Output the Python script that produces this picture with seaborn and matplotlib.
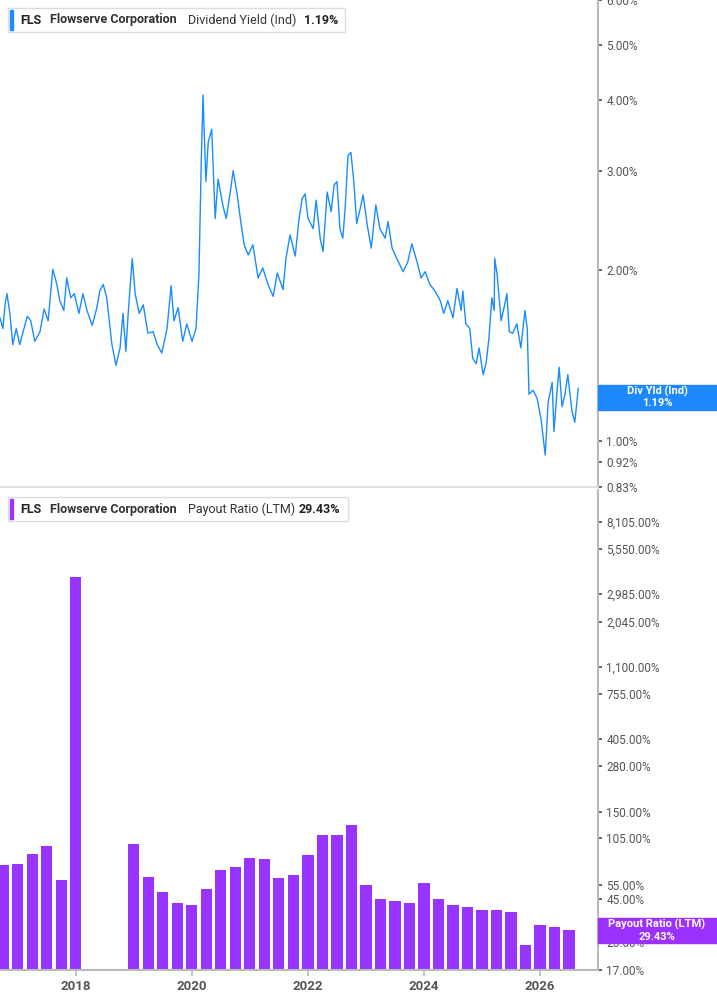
import matplotlib
matplotlib.use("Agg")
import matplotlib.pyplot as plt
import matplotlib.ticker as mticker
import seaborn as sns
import pandas as pd

sns.set_theme(style="white")
plt.rcParams['font.family'] = ['Roboto', 'DejaVu Sans']

# Dividend yield (%) vs decimal year
yield_years = [2016.69, 2016.74, 2016.78, 2016.81, 2016.86, 2016.91, 2016.97, 2017.03, 2017.09, 2017.16,
               2017.22, 2017.29, 2017.38, 2017.45, 2017.52, 2017.57, 2017.60, 2017.67, 2017.72, 2017.79,
               2017.84, 2017.91, 2017.97, 2018.05, 2018.12, 2018.19, 2018.28, 2018.36, 2018.41, 2018.47,
               2018.53, 2018.62, 2018.69, 2018.76, 2018.81, 2018.86, 2018.90, 2018.97, 2019.02, 2019.09,
               2019.16, 2019.24, 2019.33, 2019.40, 2019.48, 2019.57, 2019.64, 2019.69, 2019.76, 2019.84,
               2019.91, 2020.00, 2020.07, 2020.12, 2020.16, 2020.19, 2020.24, 2020.28, 2020.34, 2020.40,
               2020.45, 2020.53, 2020.59, 2020.66, 2020.71, 2020.78, 2020.84, 2020.90, 2020.97, 2021.05,
               2021.14, 2021.22, 2021.31, 2021.40, 2021.47, 2021.57, 2021.62, 2021.69, 2021.78, 2021.84,
               2021.90, 2021.95, 2022.00, 2022.09, 2022.14, 2022.21, 2022.26, 2022.33, 2022.40, 2022.45,
               2022.50, 2022.55, 2022.60, 2022.64, 2022.69, 2022.74, 2022.79, 2022.84, 2022.90, 2022.95,
               2023.02, 2023.09, 2023.17, 2023.24, 2023.33, 2023.38, 2023.45, 2023.53, 2023.64, 2023.72,
               2023.79, 2023.88, 2023.95, 2024.02, 2024.10, 2024.19, 2024.28, 2024.34, 2024.41, 2024.50,
               2024.57, 2024.64, 2024.67, 2024.72, 2024.79, 2024.84, 2024.90, 2024.95, 2025.02, 2025.07,
               2025.12, 2025.17, 2025.21, 2025.22, 2025.26, 2025.33, 2025.38, 2025.43, 2025.47, 2025.53,
               2025.60, 2025.67, 2025.74, 2025.78, 2025.81, 2025.88, 2025.95, 2026.02, 2026.09, 2026.14,
               2026.21, 2026.24, 2026.29, 2026.33, 2026.38, 2026.43, 2026.48, 2026.55, 2026.60, 2026.66]
yield_values = [1.65, 1.58, 1.75, 1.82, 1.68, 1.48, 1.58, 1.48, 1.56, 1.66,
                1.63, 1.50, 1.56, 1.71, 1.63, 1.86, 2.01, 1.89, 1.77, 1.70,
                1.94, 1.79, 1.82, 1.68, 1.82, 1.70, 1.60, 1.72, 1.84, 1.89,
                1.79, 1.48, 1.36, 1.46, 1.68, 1.44, 1.68, 2.10, 1.82, 1.68,
                1.74, 1.55, 1.56, 1.48, 1.43, 1.58, 1.88, 1.63, 1.72, 1.50,
                1.61, 1.50, 1.58, 1.97, 3.11, 4.08, 2.87, 3.37, 3.55, 2.47,
                2.90, 2.61, 2.47, 2.75, 3.00, 2.72, 2.44, 2.22, 2.13, 2.22,
                1.94, 2.02, 1.89, 1.80, 1.98, 1.85, 2.10, 2.31, 2.12, 2.44,
                2.68, 2.73, 2.47, 2.37, 2.66, 2.28, 2.16, 2.75, 2.54, 2.83,
                2.87, 2.37, 2.28, 2.57, 3.19, 3.23, 2.87, 2.42, 2.57, 2.72,
                2.41, 2.19, 2.61, 2.37, 2.28, 2.44, 2.19, 2.10, 1.99, 2.07,
                2.23, 2.07, 1.94, 1.99, 1.89, 1.84, 1.77, 1.68, 1.77, 1.65,
                1.86, 1.70, 1.84, 1.61, 1.58, 1.40, 1.37, 1.46, 1.31, 1.37,
                1.52, 1.79, 1.70, 2.10, 1.97, 1.63, 1.72, 1.82, 1.56, 1.55,
                1.61, 1.46, 1.70, 1.58, 1.21, 1.23, 1.19, 1.09, 0.945, 1.17,
                1.27, 1.04, 1.21, 1.35, 1.15, 1.21, 1.31, 1.13, 1.08, 1.24]

# Payout ratio (LTM, %) per quarter
payout_quarters = [2016.75, 2017.00, 2017.25, 2017.50, 2017.75, 2018.00,
                   2019.00, 2019.25, 2019.50, 2019.75, 2020.00, 2020.25, 2020.50, 2020.75,
                   2021.00, 2021.25, 2021.50, 2021.75, 2022.00, 2022.25, 2022.50, 2022.75,
                   2023.00, 2023.25, 2023.50, 2023.75, 2024.00, 2024.25, 2024.50, 2024.75,
                   2025.00, 2025.25, 2025.50, 2025.75, 2026.00, 2026.25, 2026.50]
payout_values = [72.5, 73.5, 84.0, 94.0, 58.5, 3780.0,
                 95.5, 61.0, 50.0, 43.0, 41.5, 51.9, 67.2, 69.8,
                 79.4, 78.6, 60.4, 63.0, 83.0, 108.3, 109.3, 124.5,
                 54.9, 45.1, 43.9, 42.5, 55.9, 45.3, 41.7, 40.3,
                 38.9, 38.9, 37.5, 24.1, 31.6, 30.6, 29.43]

yield_ticks = [0.83, 0.92, 1.00, 2.00, 3.00, 4.00, 5.00, 6.00]
payout_ticks = [17, 25, 45, 55, 105, 150, 280, 405, 755, 1100, 2045, 2985, 5550, 8105]
year_ticks = [2018, 2020, 2022, 2024, 2026]

BLUE = "#1a8cff"
PURPLE = "#9933ff"
GRAY = "#555555"
W, H = 717, 1005

fig = plt.figure(figsize=(W / 100, H / 100), dpi=100)
ax1 = fig.add_axes([0, 1 - 487 / H, 598 / W, 487 / H])
ax2 = fig.add_axes([0, 1 - 970 / H, 598 / W, 480 / H])

xlim = (2016.69, 2027.0)

def style(ax):
    for s in ["left", "top"]:
        ax.spines[s].set_visible(False)
    ax.spines["right"].set_color("#bbbbbb")
    ax.spines["right"].set_linewidth(1.5)
    ax.spines["bottom"].set_color("#bbbbbb")
    ax.yaxis.tick_right()
    ax.tick_params(axis="y", which="both", length=3, color=GRAY, labelsize=8.5,
                   labelcolor=GRAY, pad=3, right=True)
    ax.yaxis.set_minor_locator(mticker.NullLocator())

# Top: dividend yield
ax1.set_yscale("log")
df_y = pd.DataFrame({"year": yield_years, "yield": yield_values})
sns.lineplot(data=df_y, x="year", y="yield", ax=ax1, color=BLUE, linewidth=1.0)
ax1.set_xlim(*xlim)
ax1.set_ylim(0.83, 6.0)
style(ax1)
ax1.spines["bottom"].set_color("#dddddd")
ax1.set_yticks(yield_ticks)
ax1.set_yticklabels([f"{t:.2f}%" for t in yield_ticks])
ax1.set_xticks([])
ax1.set_xlabel("")
ax1.set_ylabel("")

# Bottom: payout ratio bars
ax2.set_yscale("log")
for q, v in zip(payout_quarters, payout_values):
    pass
df_p = pd.DataFrame({"quarter": payout_quarters, "payout": payout_values})
sns.barplot(data=df_p, x="quarter", y="payout", ax=ax2, native_scale=True,
            color=PURPLE, saturation=1, width=0.76, edgecolor=PURPLE, linewidth=0)
ax2.set_xlim(*xlim)
ax2.set_ylim(17, 12500)
style(ax2)
ax2.spines["bottom"].set_linewidth(1.5)
ax2.set_yticks(payout_ticks)
ax2.set_yticklabels([f"{t:,.2f}%" for t in payout_ticks])
ax2.set_xticks(year_ticks)
ax2.set_xticklabels([str(y) for y in year_ticks], fontsize=9.5, color=GRAY, fontweight="bold")
ax2.tick_params(axis="x", length=4, color="#bbbbbb", bottom=True, pad=3)
ax2.set_xlabel("")
ax2.set_ylabel("")

# Right-side value boxes
def value_box(y0, y1, color, l1, l2):
    fig.patches.append(plt.Rectangle((598 / W, 1 - y1 / H), (W - 598) / W, (y1 - y0) / H,
                                     transform=fig.transFigure, color=color, zorder=5))
    yc = (y0 + y1) / 2
    fig.text(657 / W, 1 - (yc - 6) / H, l1, color="white", fontsize=8, fontweight="bold",
             ha="center", va="center", zorder=6)
    fig.text(657 / W, 1 - (yc + 6) / H, l2, color="white", fontsize=8, fontweight="bold",
             ha="center", va="center", zorder=6)

value_box(385, 410, "#1e88ff", "Div Yld (Ind)", "1.19%")
value_box(918, 943, "#9b30ff", "Payout Ratio (LTM)", "29.43%")

# Header legends
def header(y, color, metric, value, xm, xv, xr):
    fig.patches.append(plt.Rectangle((8 / W, 1 - (y + 12) / H), (xr - 8) / W, 24 / H,
                                     transform=fig.transFigure, facecolor="white",
                                     edgecolor="#dddddd", linewidth=1, zorder=5))
    fig.patches.append(plt.Rectangle((10 / W, 1 - (y + 10) / H), 3 / W, 20 / H,
                                     transform=fig.transFigure, color=color, zorder=6))
    yy = 1 - y / H
    fig.text(20 / W, yy, "FLS", fontsize=9, fontweight="bold", color="#222222", va="center", zorder=7)
    fig.text(50 / W, yy, "Flowserve Corporation", fontsize=9, fontweight="bold", color="#333333",
             va="center", zorder=7)
    fig.text(xm / W, yy, metric, fontsize=9, color="#333333", va="center", zorder=7)
    fig.text(xv / W, yy, value, fontsize=9, fontweight="bold", color="#222222", va="center", zorder=7)

header(20, BLUE, "Dividend Yield (Ind)", "1.19%", 188, 304, 345)
header(509, PURPLE, "Payout Ratio (LTM)", "29.43%", 188, 299, 348)

fig.savefig("out.png", dpi=100)
